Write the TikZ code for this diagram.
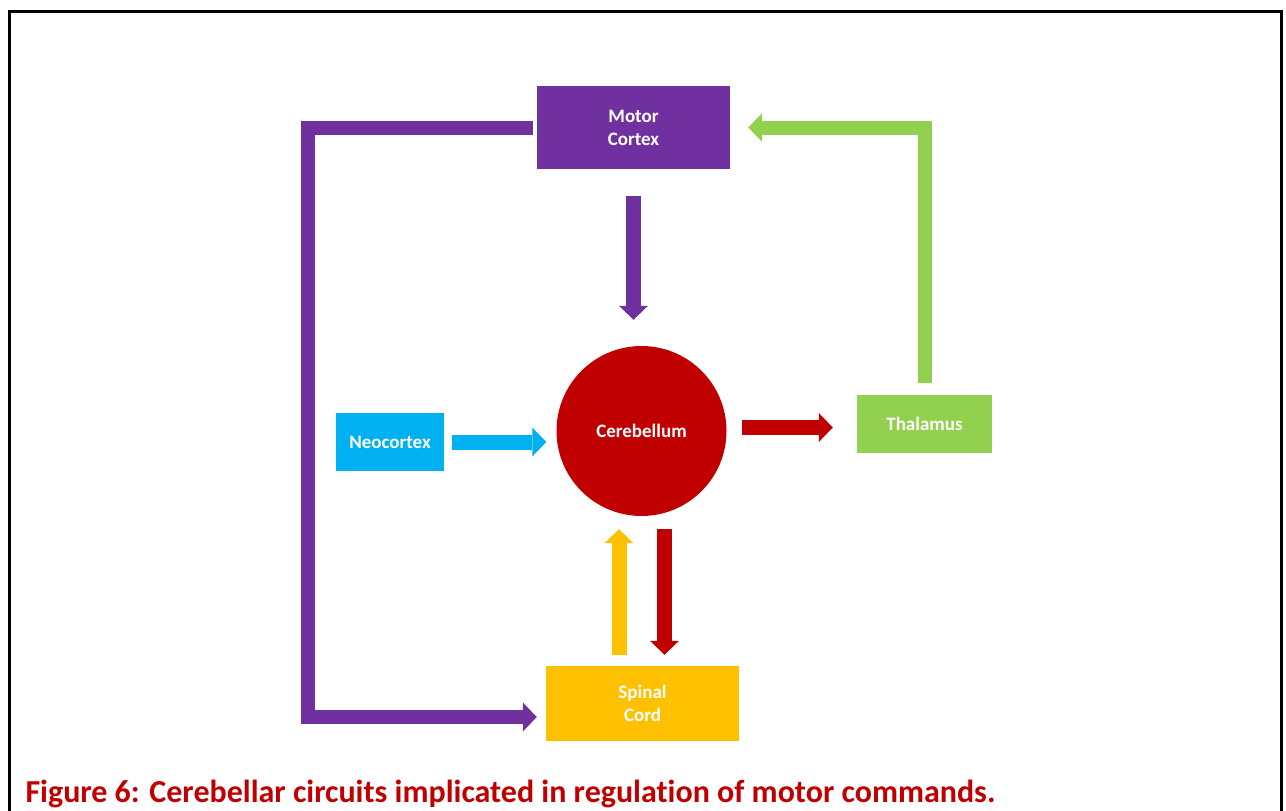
\documentclass[tikz,border=0pt]{standalone}
\usepackage{fontspec}
\setmainfont{Carlito}[Ligatures=NoCommon]
\usetikzlibrary{arrows.meta}
\definecolor{mcpurple}{HTML}{7030A0}
\definecolor{cbred}{HTML}{C00000}
\definecolor{ncblue}{HTML}{00B0F0}
\definecolor{thgreen}{HTML}{92D050}
\definecolor{scyellow}{HTML}{FFC000}

\begin{document}
\begin{tikzpicture}[x=1pt, y=-1pt,
    box/.style={rectangle, inner sep=0pt, align=center, text=white,
                font=\fontsize{19}{23}\selectfont\bfseries},
    flow/.style={line width=15pt, line join=miter,
                 -{Triangle[width=29pt,length=14pt,line width=0pt]}}]

    \useasboundingbox (0, 0) rectangle (1286, 811);
    \clip (0, 0) rectangle (1286, 811);
    \draw [line width=3pt] (9, 11) rectangle (1281, 860);

    \node[box, fill=mcpurple, minimum width=193pt, minimum height=83pt] (m) at (633.5, 127.5) {Motor\\Cortex};
    \node[box, fill=ncblue, minimum width=108pt, minimum height=58pt] (n) at (390, 442) {Neocortex};
    \node[box, circle, fill=cbred, minimum size=170pt] (c) at (641.5, 431) {Cerebellum};
    \node[box, fill=thgreen, minimum width=135pt, minimum height=58pt] (t) at (924.5, 424) {Thalamus};
    \node[box, fill=scyellow, minimum width=193pt, minimum height=75pt] (s) at (642.5, 703.5) {Spinal\\Cord};
    \coordinate (l) at (307.5, 717);

    \draw [flow, mcpurple, line width=14pt, shorten >=9pt] ([xshift=-4pt]m.west) -| (l) -- (s.west |- l);
    \draw [flow, thgreen, line width=14pt, shorten >=18pt] ([yshift=12pt]t.north) |- (m.east);
    \draw [flow, mcpurple, shorten <=27pt, shorten >=26pt] (m.south) -- (m.south |- c.north);
    \draw [flow, ncblue, shorten <=8pt, shorten >=10pt] (n.east) -- (n.east -| c.west);
    \draw [flow, cbred, shorten <=15pt, shorten >=24pt] ([yshift=3.5pt]c.east) -- ([yshift=3.5pt]c.east -| t.west);
    \draw [flow, scyellow, shorten <=11pt, shorten >=13pt] ([xshift=-23.5pt]s.north) -- ([xshift=-23.5pt]s.north |- c.south);
    \draw [flow, cbred, shorten <=13pt, shorten >=11pt] ([xshift=22pt]s.north |- c.south) -- ([xshift=22pt]s.north);

    \node[anchor=base west, text=cbred, font=\fontsize{32}{38}\selectfont\bfseries] (f) at (22, 802)
        {Figure 6: Cerebellar circuits implicated in regulation of motor commands.};

\end{tikzpicture}
\end{document}
